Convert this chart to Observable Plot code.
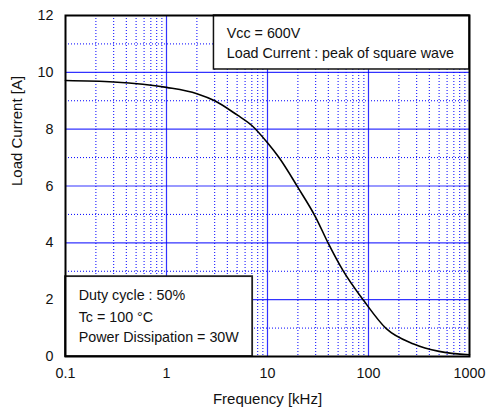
<!DOCTYPE html>
<html>
<head>
<meta charset="utf-8">
<script src="https://cdn.jsdelivr.net/npm/d3@7"></script>
<script src="https://cdn.jsdelivr.net/npm/@observablehq/plot@0.6"></script>
<style>
  html, body { margin: 0; padding: 0; background: white; }
  #chart svg { display: block; }
</style>
</head>
<body>
<div id="chart"></div>
<script>
// Data
const freqKHz = [0.1, 0.3, 1, 2, 3, 5, 7, 10, 13, 20, 30, 40, 56, 90, 150, 280, 500, 1000];
const loadCurrent = [9.71, 9.66, 9.47, 9.25, 9.0, 8.5, 8.13, 7.52, 7.0, 5.95, 4.9, 3.98, 3.02, 1.96, 0.98, 0.44, 0.18, 0.06];

const xTickLabels = [0.1, 1, 10, 100, 1000];
const yTickLabels = [0, 2, 4, 6, 8, 10, 12];
const xMajorGrid = [1, 10, 100];
const xMinorGrid = [0.1, 1, 10, 100].flatMap(d => [2, 3, 4, 5, 6, 7, 8, 9].map(k => +(d * k).toPrecision(3)));
const yMajorGrid = [2, 4, 6, 8, 10];
const yMinorGrid = [1, 3, 5, 7, 9, 11];

const topNote = ["Vcc = 600V", "Load Current : peak of square wave"];
const bottomNote = ["Duty cycle : 50%", "Tc = 100 °C", "Power Dissipation = 30W"];

const data = freqKHz.map((f, i) => ({f, a: loadCurrent[i]}));
const blue = "#0000ff";
const font = "'Liberation Sans', Arial, sans-serif";
const fs = 14.3;

const chart = Plot.plot({
  width: 487,
  height: 416,
  marginLeft: 65,
  marginRight: 18,
  marginTop: 15,
  marginBottom: 60,
  style: {fontFamily: font, fontSize: fs + "px", color: "#111", background: "white"},
  x: {type: "log", domain: [0.1, 1000]},
  y: {domain: [0, 12]},
  marks: [
    Plot.ruleX(xMinorGrid, {stroke: blue, strokeWidth: 1, strokeDasharray: "1,2"}),
    Plot.ruleY(yMinorGrid, {stroke: blue, strokeWidth: 1, strokeDasharray: "1,2"}),
    Plot.ruleX(xMajorGrid, {stroke: blue, strokeWidth: 1.2, strokeOpacity: 0.8}),
    Plot.ruleY(yMajorGrid, {stroke: blue, strokeWidth: 1.2, strokeOpacity: 0.8}),
    Plot.line(data, {x: "f", y: "a", stroke: "black", strokeWidth: 1.6, curve: "monotone-x"}),
    Plot.rect([0], {x1: 2.95, x2: 1000, y1: 10.1, y2: 12, fill: "white", stroke: "#111", strokeWidth: 1.5}),
    Plot.rect([0], {x1: 0.1, x2: 7.13, y1: 0, y2: 2.81, fill: "white", stroke: "#222", strokeWidth: 1.8}),
    Plot.text(topNote, {x: 3.95, y: (d, i) => [11.38, 10.68][i], text: d => d, textAnchor: "start", fontSize: fs, fill: "#111"}),
    Plot.text(bottomNote, {x: 0.135, y: (d, i) => [2.14, 1.37, 0.67][i], text: d => d, textAnchor: "start", fontSize: fs, fill: "#111"}),
    Plot.axisX(xTickLabels, {tickSize: 0, tickPadding: 11, tickFormat: d => String(d), label: null, fontSize: fs}),
    Plot.axisY(yTickLabels, {tickSize: 0, tickPadding: 12, label: null, fontSize: fs}),
    Plot.text(["Frequency [kHz]"], {frameAnchor: "bottom", dy: 47, text: d => d, fontSize: 15, fill: "#111"}),
    Plot.text(["Load Current [A]"], {frameAnchor: "left", dx: -48, rotate: -90, text: d => d, fontSize: 15, fill: "#111"}),
    Plot.frame({stroke: "black", strokeWidth: 2})
  ]
});
document.getElementById("chart").appendChild(chart);
</script>
</body>
</html>
